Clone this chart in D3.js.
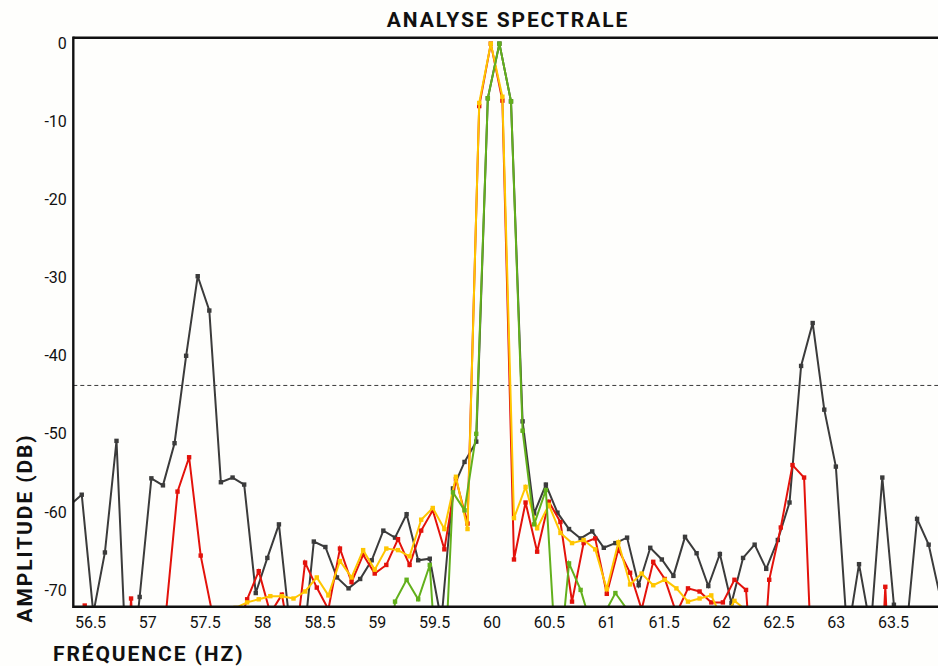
<!DOCTYPE html>
<html><head><meta charset="utf-8">
<script src="https://cdn.jsdelivr.net/npm/d3@7/dist/d3.min.js"></script>
<style>
body{margin:0;background:#fefefc;}
svg{display:block;}
</style>
</head><body>
<svg id="chart" width="938" height="666"></svg>
<script>
// ---- data ----
const freqs = [
  56.327, 56.428, 56.529, 56.630, 56.731, 56.832, 56.933, 57.035, 57.136, 57.237,
  57.338, 57.439, 57.540, 57.641, 57.743, 57.844, 57.945, 58.046, 58.147, 58.248,
  58.349, 58.451, 58.552, 58.653, 58.754, 58.855, 58.956, 59.057, 59.159, 59.260,
  59.361, 59.462, 59.563, 59.664, 59.765, 59.867, 59.968, 60.069, 60.170, 60.271,
  60.372, 60.474, 60.575, 60.676, 60.777, 60.878, 60.979, 61.080, 61.182, 61.283,
  61.384, 61.485, 61.586, 61.687, 61.788, 61.890, 61.991, 62.092, 62.193, 62.294,
  62.395, 62.496, 62.598, 62.699, 62.800, 62.901, 63.002, 63.103, 63.204, 63.306,
  63.407, 63.508, 63.609, 63.710, 63.811, 63.912
];
// red and yellow traces are sampled slightly later (Hz)
const lateSampleOffset = 0.026;

const blackVals = [
  -59.1, -57.8, -73, -65.2, -50.9, -85, -70.9, -55.7, -56.6, -51.2,
  -40, -29.8, -34.2, -56.2, -55.6, -56.5, -70.4, -65.9, -61.6, -75.4,
  -78.7, -63.8, -64.5, -68.4, -69.8, -68.6, -66.2, -62.4, -63.3, -60.3,
  -66.2, -66.0, -74, -57, -53.6, -51, -7, 0, -7.4, -48.4,
  -60.2, -56.5, -60.1, -62.2, -63.4, -62.5, -64.6, -64.0, -63.3, -69.4,
  -64.6, -66.1, -68.2, -63.2, -65.3, -69.5, -65.4, -71.7, -65.9, -64.2,
  -67.3, -63.6, -58.8, -41.3, -35.8, -46.9, -54.2, -76, -66.7, -75,
  -55.6, -71.9, -76.5, -60.9, -64.2, -70.9
];
const redVals = [
  -100, -72, -100, -100, -100, -71.1, -100, -100, -73, -57.4,
  -53.0, -65.6, -73, -90, -76, -71.2, -67.6, -73, -70.6, -79,
  -66.5, -69.7, -72.5, -64.7, -69.0, -65.5, -67.9, -66.8, -63.5, -66.8,
  -62.4, -59.8, -64.8, -55.8, -61.5, -8, 0, -7.3, -66.1, -58.8,
  -65.1, -58.7, -61.3, -71.5, -64.0, -63.4, -70.5, -64.8, -67.8, -72.5,
  -66.4, -68.6, -73, -69.8, -70.2, -71.6, -71.6, -68.7, -70.0, -90,
  -68.7, -62.0, -54.0, -55.6, -92, -100, -100, -100, -100, -100,
  -69.6, -100, -100, -100, -100, -100
];
const yellowVals = [
  -100, -100, -100, -100, -100, -100, -100, -100, -100, -100,
  -100, -100, -100, -80, -72.3, -71.6, -71.2, -70.8, -70.8, -71.1,
  -70.2, -68.4, -70.7, -66.3, -68.4, -64.9, -67.4, -64.7, -64.9, -65.7,
  -61.0, -59.5, -62.2, -55.5, -62.2, -7.6, 0, -6.8, -60.8, -56.8,
  -62.1, -59.1, -62.7, -64.0, -63.6, -64.8, -69.9, -63.9, -69.3, -67.9,
  -69.4, -68.7, -69.8, -71.5, -71.1, -70.7, -74, -71.4, -72.6, -90,
  -100, -100, -100, -100, -100, -100, -100, -100, -100, -100,
  -100, -100, -100, -100, -100, -100
];
const greenVals = [
  -100, -100, -100, -100, -100, -100, -100, -100, -100, -100,
  -100, -100, -100, -100, -100, -100, -100, -100, -100, -100,
  -100, -100, -100, -100, -100, -100, -100, -90, -71.5, -68.7,
  -71.2, -66.8, -90, -57.5, -59.8, -50.0, -7.0, 0, -7.4, -49.6,
  -61.6, -57.2, -82, -66.6, -70.0, -75, -73.2, -70.4, -72.5, -85,
  -100, -100, -100, -100, -100, -100, -100, -100, -100, -100,
  -100, -100, -100, -100, -100, -100, -100, -100, -100, -100,
  -100, -100, -100, -100, -100, -100
];
const yTickValues = [0, -10, -20, -30, -40, -50, -60, -70];
const xTickValues = [56.5, 57, 57.5, 58, 58.5, 59, 59.5, 60, 60.5, 61, 61.5, 62, 62.5, 63, 63.5];
const thresholdDb = -43.8;
const titleText = "ANALYSE SPECTRALE";
const xTitleText = "FRÉQUENCE (HZ)";
const yTitleText = "AMPLITUDE (DB)";

// ---- layout ----
const plotLeft = 73.3, plotRight = 938, plotTop = 37.7, plotBottom = 606.7;
const svg = d3.select("#chart");
const x = d3.scaleLinear().domain([56.3544, 63.8924]).range([plotLeft, plotRight]);
const y = d3.scaleLinear().domain([-72.15, 0.76]).range([plotBottom, plotTop]);

svg.append("rect").attr("width", 938).attr("height", 666).attr("fill", "#fefefc");

svg.append("defs").append("clipPath").attr("id", "plotclip")
  .append("rect").attr("x", plotLeft).attr("y", plotTop - 2)
  .attr("width", plotRight - plotLeft + 10).attr("height", plotBottom - plotTop + 2);

const plot = svg.append("g").attr("clip-path", "url(#plotclip)");

// threshold dashed line
plot.append("line")
  .attr("x1", plotLeft).attr("x2", plotRight + 5)
  .attr("y1", y(thresholdDb)).attr("y2", y(thresholdDb))
  .attr("stroke", "#3a3a3a").attr("stroke-width", 1)
  .attr("stroke-dasharray", "4,3");

const series = [
  {vals: blackVals, offset: 0, color: "#3b3b3b"},
  {vals: redVals, offset: lateSampleOffset, color: "#e3120b"},
  {vals: yellowVals, offset: lateSampleOffset, color: "#ffc600"},
  {vals: greenVals, offset: 0, color: "#62b01c"}
];

const line = d3.line().x(d => x(d.f)).y(d => y(d.v));
series.forEach(s => {
  const pts = freqs.map((f, i) => ({f: f + s.offset, v: s.vals[i]}));
  const g = plot.append("g");
  g.append("path").datum(pts).attr("d", line)
    .attr("fill", "none").attr("stroke", s.color).attr("stroke-width", 2)
    .attr("stroke-linejoin", "miter");
  g.selectAll("rect").data(pts).join("rect")
    .attr("x", d => x(d.f) - 2.2).attr("y", d => y(d.v) - 2.2)
    .attr("width", 4.4).attr("height", 4.4).attr("fill", s.color);
});

// axes
const yAxis = d3.axisLeft(y).tickValues(yTickValues).tickSize(0).tickPadding(6.5)
  .tickFormat(d => String(d));
const gy = svg.append("g").attr("transform", `translate(${plotLeft},0)`).call(yAxis);
gy.select(".domain").remove();
gy.selectAll("text").attr("font-family", "Roboto, sans-serif").attr("font-size", 16)
  .attr("fill", "#111");

const xAxis = d3.axisBottom(x).tickValues(xTickValues).tickSize(0).tickPadding(10)
  .tickFormat(d => String(d));
const gx = svg.append("g").attr("transform", `translate(0,${plotBottom})`).call(xAxis);
gx.select(".domain").remove();
gx.selectAll("text").attr("font-family", "Roboto, sans-serif").attr("font-size", 16)
  .attr("fill", "#111");

// frame lines
svg.append("line").attr("x1", plotLeft).attr("x2", plotRight).attr("y1", plotTop).attr("y2", plotTop)
  .attr("stroke", "#111").attr("stroke-width", 2.4);
svg.append("line").attr("x1", plotLeft).attr("x2", plotRight).attr("y1", plotBottom).attr("y2", plotBottom)
  .attr("stroke", "#111").attr("stroke-width", 2.4);
svg.append("line").attr("x1", plotLeft).attr("x2", plotLeft).attr("y1", plotTop - 1.2).attr("y2", plotBottom + 1.2)
  .attr("stroke", "#111").attr("stroke-width", 2.4);

// titles
svg.append("text").attr("x", 508).attr("y", 26.7).attr("text-anchor", "middle")
  .attr("font-family", "Roboto, sans-serif").attr("font-weight", 700).attr("font-size", 21)
  .attr("letter-spacing", 1.9).attr("fill", "#111").text(titleText);

svg.append("text").attr("x", 53).attr("y", 660.5).attr("text-anchor", "start")
  .attr("font-family", "Roboto, sans-serif").attr("font-weight", 700).attr("font-size", 21)
  .attr("letter-spacing", 1.9).attr("fill", "#111").text(xTitleText);

svg.append("text").attr("transform", "translate(31.5,528) rotate(-90)").attr("text-anchor", "middle")
  .attr("font-family", "Roboto, sans-serif").attr("font-weight", 700).attr("font-size", 21)
  .attr("letter-spacing", 1.9).attr("fill", "#111").text(yTitleText);
</script>
</body></html>
